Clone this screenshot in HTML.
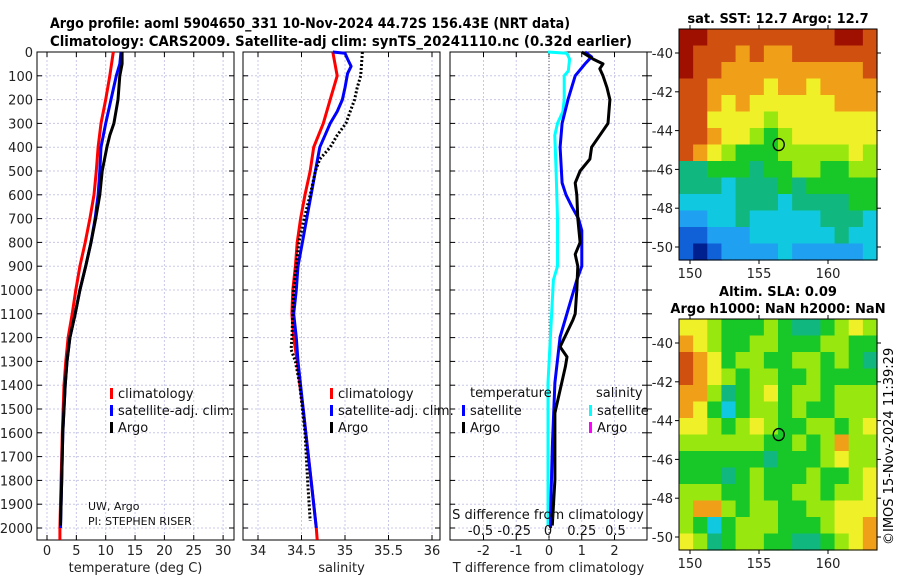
<!DOCTYPE html>
<html><head><meta charset="utf-8"><style>
html,body{margin:0;padding:0;background:#fff;}
svg{display:block;font-family:"DejaVu Sans","Liberation Sans",sans-serif;}
</style></head><body>
<svg id="s" width="900" height="580" viewBox="0 0 900 580">
<text x="50" y="28" textLength="520" lengthAdjust="spacingAndGlyphs" font-size="14" font-weight="bold">Argo profile: aoml 5904650_331 10-Nov-2024 44.72S 156.43E (NRT data)</text>
<text x="50" y="46" textLength="582" lengthAdjust="spacingAndGlyphs" font-size="14" font-weight="bold">Climatology: CARS2009. Satellite-adj clim: synTS_20241110.nc (0.32d earlier)</text>
<text x="778" y="23" text-anchor="middle" font-size="13" font-weight="bold">sat. SST: 12.7 Argo: 12.7</text>
<text x="778" y="296" text-anchor="middle" font-size="13" font-weight="bold">Altim. SLA: 0.09</text>
<text x="778" y="313" text-anchor="middle" font-size="13" font-weight="bold">Argo h1000: NaN h2000: NaN</text>
<text transform="translate(893,545) rotate(-90)" font-size="13">©IMOS 15-Nov-2024 11:39:29</text>
<g id="g"></g>
</svg>
<script>
// ---- data ----
const depthTicks=[0,100,200,300,400,500,600,700,800,900,1000,1100,1200,1300,1400,1500,1600,1700,1800,1900,2000];
const tempTicks=[0,5,10,15,20,25,30];
const salTicks=[34,34.5,35,35.5,36];
const salTickLabels=["34","34.5","35","35.5","36"];
const tdTicks=[-2,-1,0,1,2];
const sdTicks=[-0.5,-0.25,0,0.25,0.5];
const sdTickLabels=["-0.5","-0.25","0","0.25","0.5"];

const tClimD=[0,100,200,300,400,500,600,700,800,900,1000,1100,1200,1300,1400,1600,1800,2000,2050];
const tClimV=[11.3,10.7,10.0,9.2,8.7,8.4,8.0,7.3,6.5,5.6,4.9,4.3,3.6,3.2,2.9,2.6,2.4,2.2,2.2];
const tSatD=[0,50,100,200,300,400,500,600,700,800,900,1000,1100,1200,1300,1400,1600,1800,2000];
const tSatV=[12.6,12.4,11.8,10.9,10.0,9.2,9.0,8.7,8.2,7.5,6.6,5.6,4.8,3.9,3.4,3.1,2.7,2.5,2.3];
const tArgoD=[0,50,100,200,300,350,400,500,600,700,800,900,1000,1100,1200,1300,1400,1600,1800,1990];
const tArgoV=[12.8,12.8,12.4,12.1,11.4,10.7,10.2,9.4,9.0,8.3,7.5,6.6,5.6,4.8,3.9,3.4,3.1,2.7,2.5,2.3];

const sClimD=[0,100,150,200,300,400,500,600,700,800,900,1000,1100,1200,1300,1400,1500,1600,1800,2000,2050];
const sClimV=[34.86,34.91,34.87,34.83,34.75,34.64,34.60,34.54,34.49,34.45,34.43,34.40,34.39,34.41,34.45,34.48,34.52,34.55,34.61,34.67,34.68];
const sSatD=[0,5,30,60,90,150,200,250,300,350,400,500,600,700,800,900,1000,1100,1200,1300,1400,1500,1600,1800,2000];
const sSatV=[34.86,35.0,35.03,35.07,35.03,35.0,34.97,34.91,34.83,34.77,34.71,34.66,34.61,34.56,34.51,34.46,34.44,34.41,34.44,34.46,34.49,34.52,34.55,34.61,34.67];
const sArgoD=[0,100,150,200,250,300,350,400,450,500,600,700,800,900,1000,1100,1200,1250,1300,1400,1600,1800,1970];
const sArgoV=[35.2,35.18,35.14,35.11,35.06,35.01,34.91,34.83,34.71,34.66,34.60,34.53,34.47,34.44,34.41,34.40,34.39,34.38,34.43,34.48,34.54,34.57,34.60];

const dTSatD=[0,20,50,100,200,300,400,550,600,650,700,750,900,958,1197,1390,1660,1937,2000];
const dTSatV=[1.1,1.3,1.1,0.8,0.58,0.4,0.34,0.4,0.52,0.7,0.9,1.0,1.0,0.85,0.34,0.18,0.1,0.05,0.05];
const dTArgoD=[0,30,50,70,100,150,200,300,350,400,450,500,550,600,700,800,850,900,1000,1100,1126,1239,1281,1322,1517,1798,1990];
const dTArgoV=[1.0,1.35,1.65,1.55,1.65,1.77,1.86,1.8,1.55,1.3,1.25,0.95,0.8,0.85,0.88,0.95,0.8,0.88,0.85,0.8,0.73,0.34,0.55,0.5,0.18,0.18,0.1];
const dSSatD=[0,5,30,80,100,200,250,300,350,500,700,900,958,1390,1700,1990];
const dSSatV=[0,0.14,0.16,0.15,0.12,0.12,0.11,0.07,0.05,0.06,0.07,0.07,0.04,0,0,0];

const sstGrid=[
[10,10,9,9,9,9,9,9,9,9,9,10,10,9],
[10,9,9,9,8,9,8,8,9,9,9,9,9,9],
[10,9,9,8,8,8,8,8,8,8,8,8,8,9],
[9,9,8,8,8,8,7,8,8,7,8,8,8,8],
[9,9,8,7,8,7,7,7,7,7,7,8,8,8],
[9,9,7,7,7,7,6,7,7,7,7,7,7,7],
[9,9,8,7,7,6,5,6,7,7,7,7,7,7],
[9,8,7,6,5,5,5,6,6,6,6,6,7,6],
[4,4,5,5,5,4,5,5,6,6,5,5,6,6],
[4,4,4,3,4,4,4,5,4,5,5,5,5,5],
[3,3,3,3,4,4,4,3,4,4,4,4,5,5],
[2,2,3,3,4,3,3,3,3,3,4,4,4,3],
[1,1,2,2,2,3,3,3,3,3,3,4,3,3],
[1,0,1,2,2,2,2,3,2,2,2,2,2,3]];
const slaGrid=[
[7,7,6,5,5,5,6,5,4,4,5,6,7,6],
[8,7,6,5,5,6,6,5,5,5,6,6,5,5],
[9,8,7,5,6,6,5,5,6,6,5,6,5,4],
[9,8,7,6,5,6,6,5,5,6,5,5,5,5],
[8,8,6,4,5,6,7,5,6,6,5,6,6,6],
[8,7,5,3,5,6,6,5,6,5,5,6,6,6],
[7,7,6,5,6,7,6,5,5,6,6,5,6,7],
[6,6,6,6,6,6,5,5,6,5,6,8,6,6],
[5,5,5,5,5,5,4,5,5,5,6,7,6,6],
[5,5,5,4,5,6,5,5,5,6,5,5,6,7],
[6,6,6,5,5,6,5,5,6,6,5,6,6,7],
[6,8,8,6,5,6,6,5,5,6,6,7,7,7],
[6,5,3,5,6,6,6,5,5,5,6,7,7,8],
[7,6,4,5,6,6,5,5,4,4,5,6,7,8]];
const latTicks=[-40,-42,-44,-46,-48,-50];
const lonTicks=[150,155,160];
const argoLon=156.43, argoLat=-44.72;

// ---- helpers ----
const NS="http://www.w3.org/2000/svg";
const G=document.getElementById('g');
function mk(t,a,p){const e=document.createElementNS(NS,t);for(const k in a)e.setAttribute(k,a[k]);(p||G).appendChild(e);return e;}
const yD=d=>52+d*0.238;
const P1={x0:37,x1:234,f:v=>47+v*5.87};
const P2={x0:243,x1:440,f:v=>258+(v-34)*87};
const P3={x0:450,x1:647,f:v=>549+v*32.75};
const sdX=v=>548+v*135;
const TOP=52,BOT=540;
const pal=['#00208f','#1060d8','#20a0f0','#10c8e0','#10b880','#18c828','#98e810','#f0f028','#f0a018','#d05010','#a01000'];

function panel(P,ticks,labels,name,xlabel,leftLabels,rightTicks){
  const g=mk('g',{});
  
  
  ticks.forEach((t,i)=>{const x=P.f(t);
    const l=mk('line',{x1:x,x2:x,y1:TOP,y2:BOT,stroke:'#c8c8e8','stroke-width':1,'stroke-dasharray':'2,2'},g);
    
    mk('line',{x1:x,x2:x,y1:BOT,y2:BOT-5,stroke:'#000'},g);
    mk('line',{x1:x,x2:x,y1:TOP,y2:TOP+5,stroke:'#000'},g);
    const tx=mk('text',{x:x,y:555,'text-anchor':'middle','font-size':13,fill:'#222'},g);tx.textContent=labels[i];
    
  });
  depthTicks.forEach(d=>{const y=yD(d);
    const l=mk('line',{x1:P.x0,x2:P.x1,y1:y,y2:y,stroke:'#c8c8e8','stroke-width':1,'stroke-dasharray':'2,2'},g);
    
    mk('line',{x1:P.x0,x2:P.x0+5,y1:y,y2:y,stroke:'#000'},g);
    mk('line',{x1:P.x1,x2:P.x1-5,y1:y,y2:y,stroke:'#000'},g);
    if(rightTicks) mk('line',{x1:P.x1,x2:P.x1+5,y1:y,y2:y,stroke:'#000'},g);
    if(leftLabels){const tx=mk('text',{x:P.x0-4,y:y+5,'text-anchor':'end','font-size':13,fill:'#222'},g);tx.textContent=d;
      }
  });
  const r=mk('rect',{x:P.x0,y:TOP,width:P.x1-P.x0,height:BOT-TOP,fill:'none',stroke:'#000','stroke-width':1},g);
  
  const xl=mk('text',{x:(P.x0+P.x1)/2,y:572,'text-anchor':'middle','font-size':13,fill:'#222'},g);xl.textContent=xlabel;
  
}
function line(D,V,fx,color,name,dash){
  const pts=D.map((d,i)=>fx(V[i]).toFixed(1)+','+yD(d).toFixed(1)).join(' ');
  const a={points:pts,fill:'none',stroke:color,'stroke-width':3,'stroke-linejoin':'round'};
  if(dash)a['stroke-dasharray']=dash;
  const e=mk('polyline',a);
  
  
}
function legend(x,y,items){
  items.forEach((it,i)=>{const yy=y+i*17;
    const m=mk('rect',{x:x,y:yy-9,width:3,height:11,fill:it[1]});
    
    const t=mk('text',{x:x+8,y:yy+1,'font-size':13,fill:'#111'});t.textContent=it[0];
    
  });
}
function text(x,y,s,size,name,anchor){const t=mk('text',{x:x,y:y,'font-size':size,fill:'#111','text-anchor':anchor||'start'});t.textContent=s;
  }

panel(P1,tempTicks,tempTicks.map(String),'temperature-panel','temperature (deg C)',true,false);
panel(P2,salTicks,salTickLabels,'salinity-panel','salinity',false,false);
panel(P3,tdTicks,tdTicks.map(String),'difference-panel','T difference from climatology',false,true);

line(tClimD,tClimV,P1.f,'#ff0000','temp-climatology-line');
line(tSatD,tSatV,P1.f,'#0000ff','temp-satellite-line');
line(tArgoD,tArgoV,P1.f,'#000000','temp-argo-line');
line(sClimD,sClimV,P2.f,'#ff0000','sal-climatology-line');
line(sSatD,sSatV,P2.f,'#0000ff','sal-satellite-line');
line(sArgoD,sArgoV,P2.f,'#000000','sal-argo-line','2,2');
const zl=mk('line',{x1:P3.f(0),x2:P3.f(0),y1:TOP,y2:BOT,stroke:'#555','stroke-width':1,'stroke-dasharray':'1,2'});

line(dSSatD,dSSatV,sdX,'#00ffff','sal-diff-satellite-line');
line(dTSatD,dTSatV,P3.f,'#0000ff','temp-diff-satellite-line');
line(dTArgoD,dTArgoV,P3.f,'#000000','temp-diff-argo-line');

legend(110,397,[['climatology','#ff0000'],['satellite-adj. clim.','#0000ff'],['Argo','#000000']]);
legend(330,397,[['climatology','#ff0000'],['satellite-adj. clim.','#0000ff'],['Argo','#000000']]);
text(470,397,'temperature',13,'legend-title-temperature');
text(596,397,'salinity',13,'legend-title-salinity');
legend(462,414,[['satellite','#0000ff'],['Argo','#000000']]);
legend(589,414,[['satellite','#00ffff'],['Argo','#ff00ff']]);
text(88,510,'UW, Argo',11,'credit-institution');
text(88,525,'PI: STEPHEN RISER',11,'credit-pi');
text(548,519,'S difference from climatology',13,'s-diff-axis-title','middle');
sdTicks.forEach((v,i)=>text(sdX(v),535,sdTickLabels[i],13,'s-diff-tick-label','middle'));

function map(y0,y1,grid,name,latY){
  const X0=679,X1=877;
  const lonX=l=>690+(l-150)*13.8;
  const g=mk('g',{});
  const R=grid.length,C=grid[0].length,cw=(X1-X0)/C,ch=(y1-y0)/R;
  grid.forEach((row,r)=>row.forEach((v,c)=>{
    const e=mk('rect',{x:(X0+c*cw).toFixed(2),y:(y0+r*ch).toFixed(2),width:(cw+0.6).toFixed(2),height:(ch+0.6).toFixed(2),fill:pal[v]},g);
    
  }));
  mk('rect',{x:X0,y:y0,width:X1-X0,height:y1-y0,fill:'none',stroke:'#000'},g);
  latTicks.forEach(l=>{const y=latY(l);
    mk('line',{x1:X0-4,x2:X0,y1:y,y2:y,stroke:'#000'},g);
    mk('line',{x1:X1,x2:X1+4,y1:y,y2:y,stroke:'#000'},g);
    const t=mk('text',{x:X0-6,y:y+5,'text-anchor':'end','font-size':13,fill:'#222'},g);t.textContent=l;
    });
  lonTicks.forEach(l=>{const x=lonX(l);
    mk('line',{x1:x,x2:x,y1:y1,y2:y1+4,stroke:'#000'},g);
    mk('line',{x1:x,x2:x,y1:y0-4,y2:y0,stroke:'#000'},g);
    const t=mk('text',{x:x,y:y1+18,'text-anchor':'middle','font-size':13,fill:'#222'},g);t.textContent=l;
    });
  const c=mk('ellipse',{cx:lonX(argoLon),cy:latY(argoLat),rx:5.5,ry:6,fill:'none',stroke:'#000','stroke-width':1.3},g);
  
}
map(29,260,sstGrid,'sst-map',l=>53+(-40-l)*19.4);
map(319,550,slaGrid,'sla-map',l=>343+(-40-l)*19.4);
</script>
</body></html>
